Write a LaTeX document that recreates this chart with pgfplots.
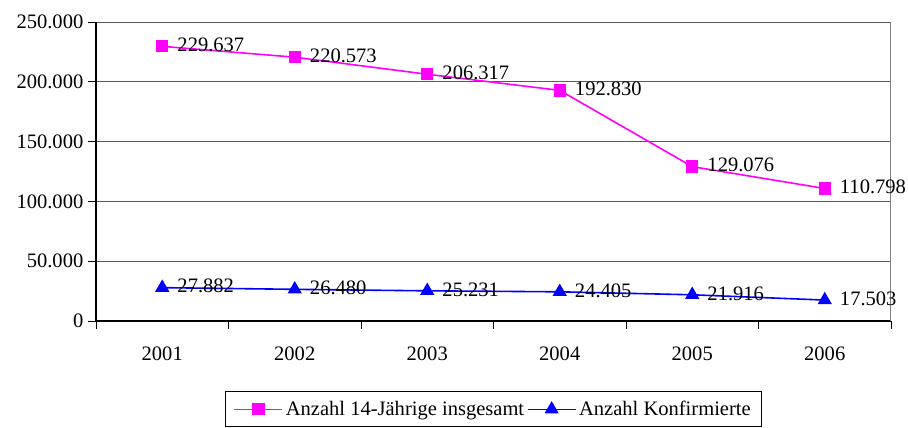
\documentclass[border=0pt]{standalone}
\usepackage{fontspec}
\setmainfont{Liberation Serif}
\usepackage{pgfplots}
\pgfplotsset{compat=1.18}
\definecolor{mag}{RGB}{255,0,255}
\definecolor{blu}{RGB}{0,0,255}
\newcommand{\chartfont}{\fontsize{15.4}{18.5}\selectfont}
\begin{document}
\begin{tikzpicture}
\begin{axis}[
  name=ax, at={(0,0)}, anchor=south west,
  scale only axis, width=596.25pt, height=224.25pt,
  xmin=-0.5, xmax=5.5, ymin=0, ymax=250000,
  axis x line*=bottom, axis y line*=left,
  axis line style={black, line width=0.8pt},
  tick align=outside, major tick length=6pt,
  tick style={black, line width=0.7pt},
  xtick={-0.5,0.5,1.5,2.5,3.5,4.5,5.5}, xticklabels={},
  extra x ticks={0,1,2,3,4,5},
  extra x tick labels={2001,2002,2003,2004,2005,2006},
  extra x tick style={major tick length=0pt, grid=none,
     tick label style={anchor=base, yshift=-29.5pt}},
  ytick={0,50000,100000,150000,200000,250000},
  yticklabels={0,50.000,100.000,150.000,200.000,250.000},
  scaled y ticks=false,
  ymajorgrids, grid style={black!65, line width=0.7pt},
  tick label style={font=\chartfont},
  /pgf/number format/assume math mode=true,
  legend style={at={(axis description cs:0.5,-0.235)}, anchor=north,
     draw=black, line width=0.75pt, font=\chartfont,
     /tikz/every even column/.append style={column sep=0pt},
     inner xsep=6pt, inner ysep=5pt},
  legend columns=2, legend cell align=left,
  legend image code/.code={\draw[mark repeat=2,mark phase=2,#1] plot coordinates {(0pt,0pt)(18pt,0pt)(36pt,0pt)};},
  every node near coord/.append style={anchor=west, xshift=7.5pt, yshift=1pt, font=\chartfont, text=black},
  clip=false,
]
\addplot[mag, line width=1.2pt, mark=square*, mark size=4pt, mark options={solid, fill=mag},
  nodes near coords, point meta=explicit symbolic] coordinates {
  (0,229637) [229.637]
  (1,220573) [220.573]
  (2,206317) [206.317]
  (3,192830) [192.830]
  (4,129076) [129.076]
  (5,110798) [110.798]
};
\addlegendentry{Anzahl 14-Jährige insgesamt}
\addplot[blu, line width=1.2pt, mark=triangle*, mark size=5pt, mark options={solid, fill=blu},
  nodes near coords, point meta=explicit symbolic] coordinates {
  (0,27882) [27.882]
  (1,26480) [26.480]
  (2,25231) [25.231]
  (3,24405) [24.405]
  (4,21916) [21.916]
  (5,17503) [17.503]
};
\addlegendentry{Anzahl Konfirmierte}
\draw[gray, line width=0.75pt] (rel axis cs:1,0) -- (rel axis cs:1,1);
\end{axis}
\pgfresetboundingbox
\path[use as bounding box] (-72pt,-80.25pt) rectangle (609pt,240.75pt);
\end{tikzpicture}
\end{document}
